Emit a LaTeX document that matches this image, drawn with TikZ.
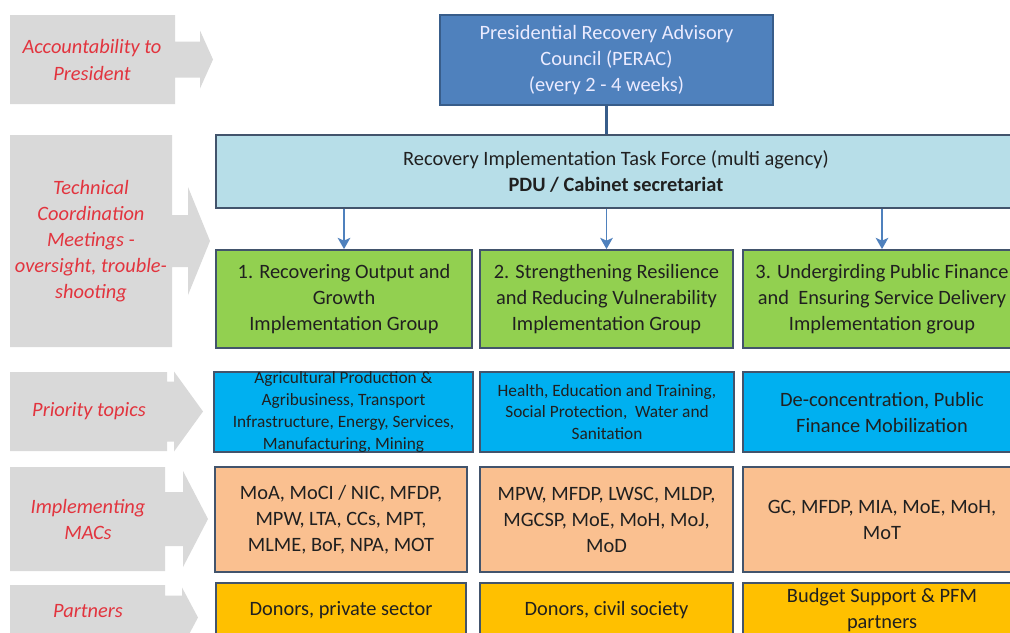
\documentclass[tikz,border=0pt]{standalone}
\usepackage{fontspec}
\setmainfont{Carlito}
\usetikzlibrary{arrows.meta}

\definecolor{sidegray}{RGB}{217,217,217}
\definecolor{sidered}{RGB}{226,52,62}
\definecolor{boxedge}{RGB}{66,84,108}
\definecolor{peracblue}{RGB}{79,129,189}
\definecolor{peracedge}{RGB}{56,93,138}
\definecolor{taskblue}{RGB}{183,222,232}
\definecolor{groupgreen}{RGB}{146,208,80}
\definecolor{topicblue}{RGB}{0,176,240}
\definecolor{macpeach}{RGB}{250,192,144}
\definecolor{partnergold}{RGB}{255,192,0}
\definecolor{textdark}{RGB}{32,32,32}

\newcommand{\sidearrow}[7]{%
    \fill[sidegray] (10,#1) -- (#3,#1) -- (#3,{(#1+#2)/2-#6}) -- (#4,{(#1+#2)/2-#6})
        -- (#4,{(#1+#2)/2-#7}) -- (#5,{(#1+#2)/2}) -- (#4,{(#1+#2)/2+#7})
        -- (#4,{(#1+#2)/2+#6}) -- (#3,{(#1+#2)/2+#6}) -- (#3,#2) -- (10,#2) -- cycle;}

\tikzset{
    wd/.style={minimum width={#1*0.025cm}},
    ht/.style={minimum height={#1*0.025cm}},
    box/.style={draw=boxedge, line width=1.3pt, align=center, inner sep=0pt,
        text=textdark, font=\fontsize{14.5}{18.5}\selectfont},
    tag/.style={align=center, text=sidered, font=\fontsize{14.5}{18.5}\selectfont\itshape},
    small/.style={font=\fontsize{12.3}{15.5}\selectfont},
    feed/.style={draw=peracblue, line width=1.1pt, -{Stealth[length=8pt,width=9pt,inset=2pt]}}
}

\begin{document}
\begin{tikzpicture}[x=0.025cm, y=-0.025cm]
    \useasboundingbox (0,0) rectangle (1010,632);
    \clip (0,0) rectangle (1010,632);
    \fill[white] (0,0) rectangle (1010,632);

    \sidearrow{15}{104}{175}{200}{213}{18}{29}
    \sidearrow{135}{347}{172}{188}{210}{26}{54}
    \sidearrow{372}{451}{167}{174}{203}{30}{40}
    \sidearrow{467}{571}{165}{183}{208}{27}{48}
    \sidearrow{585}{650}{165}{182}{198}{22}{30}

    \node[tag] (tagpres) at (92,60) {Accountability to\\President};
    \node[tag] (tagtech) at (91,241) {Technical\\Coordination\\Meetings -\\oversight, trouble-\\shooting};
    \node[tag] (tagtopic) at (89,411) {Priority topics};
    \node[tag] (tagmac) at (88,519) {Implementing\\MACs};
    \node[tag] (tagpart) at (88,611) {Partners};

    \node[box, draw=peracedge, fill=peracblue, text=white!92!blue, wd=333, ht=90] (perac) at (606.5,60)
        {Presidential Recovery Advisory\\Council (PERAC)\\(every 2 - 4 weeks)};
    \node[box, fill=taskblue, wd=800, ht=73] (task) at (616,171.5)
        {Recovery Implementation Task Force (multi agency)\\\textbf{PDU / Cabinet secretariat}};

    \node[box, fill=groupgreen, wd=256, ht=98] (grp1) at (344,299)
        {1. Recovering Output and\\Growth\\Implementation Group};
    \node[box, fill=groupgreen, wd=253, ht=98] (grp2) at (606.5,299)
        {2. Strengthening Resilience\\and Reducing Vulnerability\\Implementation Group};
    \node[box, fill=groupgreen, wd=278, ht=98] (grp3) at (882,299)
        {3. Undergirding Public Finance\\and\ \ Ensuring Service Delivery\\Implementation group};

    \node[box, small, fill=topicblue, wd=259, ht=80] (topic1) at (343.5,412)
        {Agricultural Production \&\\Agribusiness, Transport\\Infrastructure, Energy, Services,\\Manufacturing, Mining};
    \node[box, small, fill=topicblue, wd=254, ht=80] (topic2) at (607,412)
        {Health, Education and Training,\\Social Protection,\ \ Water and\\Sanitation};
    \node[box, fill=topicblue, wd=278, ht=80] (topic3) at (882,412)
        {De-concentration, Public\\Finance Mobilization};

    \node[box, fill=macpeach, wd=252, ht=105] (mac1) at (341,519.5)
        {MoA, MoCI / NIC, MFDP,\\MPW, LTA, CCs, MPT,\\MLME, BoF, NPA, MOT};
    \node[box, fill=macpeach, wd=253, ht=105] (mac2) at (606.5,519.5)
        {MPW, MFDP, LWSC, MLDP,\\MGCSP, MoE, MoH, MoJ,\\MoD};
    \node[box, fill=macpeach, wd=278, ht=105] (mac3) at (882,519.5)
        {GC, MFDP, MIA, MoE, MoH,\\MoT};

    \node[box, fill=partnergold, wd=250, ht=54] (part1) at (341,610)
        {Donors, private sector};
    \node[box, fill=partnergold, wd=253, ht=54] (part2) at (606.5,610)
        {Donors, civil society};
    \node[box, fill=partnergold, wd=278, ht=54] (part3) at (882,610)
        {Budget Support \& PFM\\partners};

    \draw[peracedge, line width=1.5pt] (perac.south) -- (perac.south |- task.north);
    \draw[feed] (task.south -| grp1.north) -- (grp1.north);
    \draw[feed] (task.south -| grp2.north) -- (grp2.north);
    \draw[feed] (task.south -| grp3.north) -- (grp3.north);
\end{tikzpicture}
\end{document}
